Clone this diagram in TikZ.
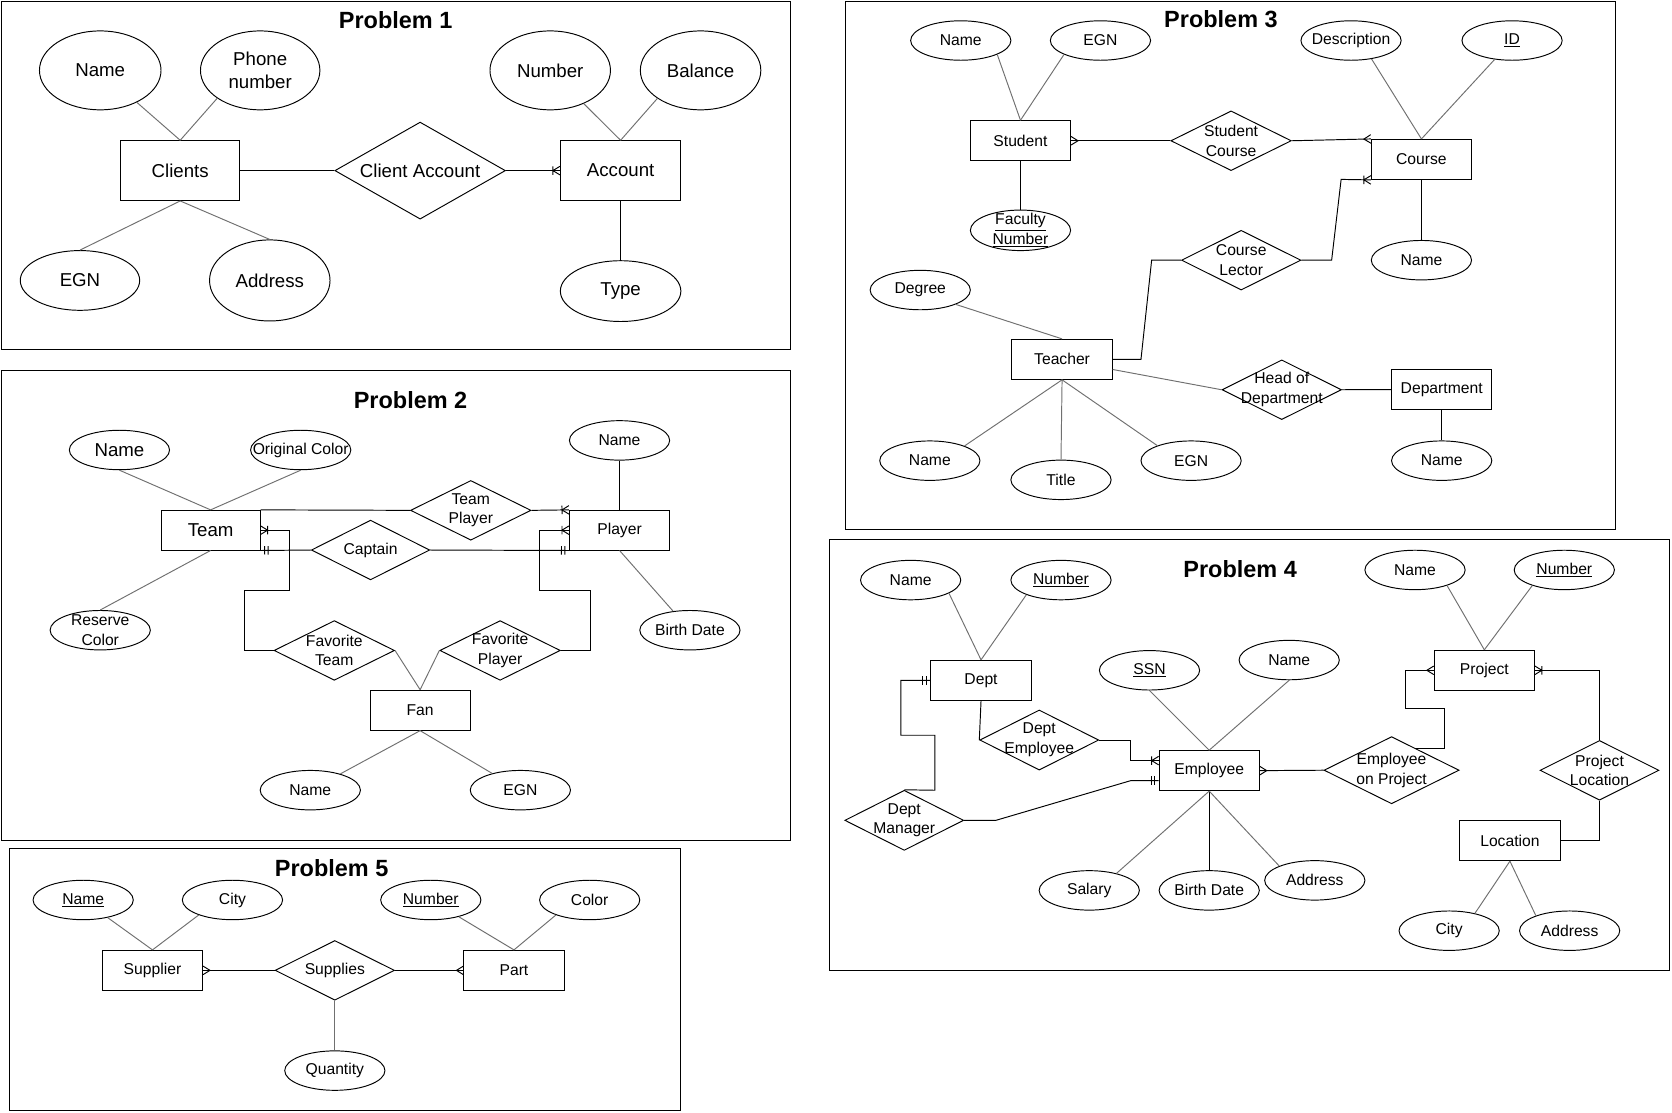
\documentclass[tikz,border=0pt]{standalone}
\usepackage{fontspec}
\setmainfont{Liberation Sans}
\usetikzlibrary{arrows.meta,shapes.geometric,calc}

\definecolor{ag}{HTML}{707070}

\pgfdeclarearrow{
  name = ERmany,
  defaults = {length = 6.5pt, width = 8pt},
  setup code = {
    \pgfarrowssettipend{0pt}
    \pgfarrowssetlineend{0pt}
    \pgfarrowssetbackend{-\pgfarrowlength}
    \pgfarrowssavethe\pgfarrowlength
    \pgfarrowssavethe\pgfarrowwidth
  },
  drawing code = {
    \pgfsetdash{}{0pt}
    \pgfpathmoveto{\pgfqpoint{0pt}{.5\pgfarrowwidth}}
    \pgfpathlineto{\pgfqpoint{-\pgfarrowlength}{0pt}}
    \pgfpathlineto{\pgfqpoint{0pt}{-.5\pgfarrowwidth}}
    \pgfusepathqstroke
  },
  parameters = {\the\pgfarrowlength,\the\pgfarrowwidth},
}
\pgfdeclarearrow{
  name = ERonemany,
  defaults = {length = 6.5pt, width = 8pt},
  setup code = {
    \pgfarrowssettipend{0pt}
    \pgfarrowssetlineend{0pt}
    \pgfarrowssetbackend{-\pgfarrowlength}
    \pgfarrowssavethe\pgfarrowlength
    \pgfarrowssavethe\pgfarrowwidth
  },
  drawing code = {
    \pgfsetdash{}{0pt}
    \pgfpathmoveto{\pgfqpoint{0pt}{.5\pgfarrowwidth}}
    \pgfpathlineto{\pgfqpoint{-\pgfarrowlength}{0pt}}
    \pgfpathlineto{\pgfqpoint{0pt}{-.5\pgfarrowwidth}}
    \pgfpathmoveto{\pgfqpoint{-\pgfarrowlength}{.5\pgfarrowwidth}}
    \pgfpathlineto{\pgfqpoint{-\pgfarrowlength}{-.5\pgfarrowwidth}}
    \pgfusepathqstroke
  },
  parameters = {\the\pgfarrowlength,\the\pgfarrowwidth},
}
\pgfdeclarearrow{
  name = ERone,
  defaults = {length = 7pt, width = 8pt},
  setup code = {
    \pgfarrowssettipend{0pt}
    \pgfarrowssetlineend{0pt}
    \pgfarrowssetbackend{-\pgfarrowlength}
    \pgfarrowssavethe\pgfarrowlength
    \pgfarrowssavethe\pgfarrowwidth
  },
  drawing code = {
    \pgfsetdash{}{0pt}
    \pgfpathmoveto{\pgfqpoint{-.54\pgfarrowlength}{.5\pgfarrowwidth}}
    \pgfpathlineto{\pgfqpoint{-.54\pgfarrowlength}{-.5\pgfarrowwidth}}
    \pgfpathmoveto{\pgfqpoint{-\pgfarrowlength}{.5\pgfarrowwidth}}
    \pgfpathlineto{\pgfqpoint{-\pgfarrowlength}{-.5\pgfarrowwidth}}
    \pgfusepathqstroke
  },
  parameters = {\the\pgfarrowlength,\the\pgfarrowwidth},
}

\tikzset{
  fsm/.style={font=\fontsize{14.7}{18.5}\selectfont},
  fbig/.style={font=\fontsize{17.5}{21.5}\selectfont},
  ptitle/.style={inner sep=0pt, font=\fontsize{22}{26}\selectfont\bfseries},
  ent/.style={draw, rectangle, line width=0.9pt, inner sep=0pt, minimum width=94pt, minimum height=37.5pt, fsm},
  att/.style={draw, ellipse, line width=0.9pt, inner sep=0pt, minimum width=94pt, minimum height=37pt},
  rel/.style={draw, diamond, line width=0.9pt, inner sep=0pt, minimum width=112pt, minimum height=56pt},
  lbl/.style={align=center, inner sep=0pt, fsm},
  lblbig/.style={align=center, inner sep=0pt, fbig},
  pframe/.style={draw, line width=0.9pt},
  bl/.style={line width=0.9pt, draw=black},
  al/.style={line width=0.9pt, draw=ag},
}

% shape with a free-standing centred text: style, name, position, text style, text
\newcommand\mkshape[5]{\node[#1] (#2) at (#3) {}; \node[#4] (#2t) at (#2.center) {#5};}

\begin{document}
\begin{tikzpicture}[x=1pt,y=-1pt]
\useasboundingbox (0,0) rectangle (1568,1043);

% frames
\draw[pframe] (1,1) rectangle (741,328);
\draw[pframe] (1,347) rectangle (741,788);
\draw[pframe] (9,796) rectangle (638,1041);
\draw[pframe] (793,1) rectangle (1515,497);
\draw[pframe] (778,506) rectangle (1566,910);

% ---------------- Problem 1 ----------------
\node[ptitle] (t1) at (371,19) {Problem 1};
\mkshape{att,minimum width=114pt,minimum height=74pt}{p1name}{94,66}{lblbig}{Name}
\mkshape{att,minimum width=112pt,minimum height=74pt}{p1phone}{244,66}{lblbig}{Phone\\number}
\mkshape{att,minimum width=113pt,minimum height=74pt}{p1num}{516,66}{lblbig}{Number}
\mkshape{att,minimum width=113pt,minimum height=74pt}{p1bal}{657,66}{lblbig}{Balance}
\node[ent,fbig,minimum width=112pt,minimum height=56pt] (p1cl) at (169,160) {Clients};
\mkshape{rel,minimum width=160pt,minimum height=91pt}{p1ca}{394,160}{lblbig}{Client Account}
\node[ent,fbig,minimum width=113pt,minimum height=56pt] (p1ac) at (582,160) {Account};
\mkshape{att,minimum width=112pt,minimum height=56pt}{p1egn}{75,263}{lblbig}{EGN}
\mkshape{att,minimum width=113pt,minimum height=76pt}{p1addr}{253,263}{lblbig}{Address}
\mkshape{att,minimum width=113pt,minimum height=57pt}{p1type}{582,273}{lblbig}{Type}

\draw[al] (p1name) -- (p1cl.north);
\draw[al] (p1phone.213) -- (p1cl.north);
\draw[al] (p1cl.south) -- (p1egn.north);
\draw[al] (p1cl.south) -- (p1addr.north);
\draw[al] (p1num) -- (p1ac.north);
\draw[al] (p1bal.213) -- (p1ac.north);
\draw[bl] (p1ac.south) -- (p1type.north);
\draw[bl] (p1cl.east) -- (p1ca.west);
\draw[bl,-{ERonemany}] (p1ca.east) -- (p1ac.west);

% ---------------- Problem 2 ----------------
\node[ptitle] (t2) at (385,375) {Problem 2};
\mkshape{att}{p2tn}{112,422}{lblbig}{Name}
\mkshape{att}{p2oc}{282,422}{lbl}{Original Color}
\mkshape{att}{p2pn}{581,413}{lbl}{Name}
\node[ent,fbig,minimum width=93pt,minimum height=37.2pt] (p2team) at (197.5,497.2) {Team};
\node[ent,minimum height=37.2pt] (p2pl) at (581,497.2) {Player};
\mkshape{rel,minimum width=113pt}{p2tp}{441.5,478.6}{lbl}{Team\\Player}
\mkshape{rel,minimum width=111pt}{p2cap}{347.5,515.8}{lbl}{Captain}
\mkshape{rel,minimum width=113pt}{p2ft}{313.5,610}{lbl}{Favorite\\Team}
\mkshape{rel,minimum width=113pt}{p2fp}{469,610}{lbl}{Favorite\\Player}
\node[ent] (p2fan) at (394,666) {Fan};
\mkshape{att}{p2rc}{94,591}{lbl}{Reserve\\Color}
\mkshape{att}{p2bd}{647,591}{lbl}{Birth Date}
\mkshape{att}{p2fn}{291,741}{lbl}{Name}
\mkshape{att}{p2egn}{488,741}{lbl}{EGN}

\draw[al] (p2tn.south) -- (p2team.north);
\draw[al] (p2oc.south) -- (p2team.north);
\draw[al] (p2team.south) -- (p2rc.north);
\draw[bl] (p2pn.south) -- (p2pl.north);
\draw[al] (p2pl.south) -- (p2bd);
\draw[al] (p2fan.south) -- (p2fn);
\draw[al] (p2fan.south) -- (p2egn);
\draw[bl] (p2team.north east) -- (p2tp.west);
\draw[bl,-{ERonemany}] (p2tp.east) -- (p2pl.north west);
\draw[bl,{ERone}-] (p2team.south east) -- (p2cap.west);
\draw[bl,-{ERone}] (p2cap.east) -- (p2pl.south west);
\draw[bl,-{ERonemany}] (p2ft.west) -| (229.7,553.6) -| (271.8,497.2) -- (p2team.east);
\draw[al] (p2ft.east) -- (p2fan.north);
\draw[al] (p2fp.west) -- (p2fan.north);
\draw[bl,-{ERonemany}] (p2fp.east) -| (553.6,553.6) -| (506.2,497.2) -- (p2pl.west);

% ---------------- Problem 3 ----------------
\node[ptitle] (t3) at (1145,18) {Problem 3};
\mkshape{att}{p3sname}{901,38}{lbl}{Name}
\mkshape{att}{p3segn}{1032,38}{lbl}{EGN}
\mkshape{att}{p3desc}{1267,38}{lbl}{Description}
\mkshape{att}{p3id}{1418,38}{lbl}{\underline{ID}}
\node[ent] (p3stud) at (957,132) {Student};
\mkshape{rel,minimum width=113pt}{p3sc}{1154.5,132}{lbl}{Student\\Course}
\node[ent] (p3course) at (1333,149.5) {Course};
\mkshape{att,minimum height=38pt}{p3fac}{957,216}{lbl}{\underline{Faculty}\\\underline{Number}}
\mkshape{rel}{p3cl}{1164,244}{lbl}{Course\\Lector}
\mkshape{att}{p3cname}{1333,244}{lbl}{Name}
\mkshape{att}{p3deg}{863,272}{lbl}{Degree}
\node[ent] (p3teach) at (996,337) {Teacher};
\mkshape{rel}{p3hod}{1202,365.5}{lbl}{Head of\\Department}
\node[ent] (p3dept) at (1352,365.3) {Department};
\mkshape{att}{p3tname}{872,432}{lbl}{Name}
\mkshape{att}{p3title}{995,450}{lbl}{Title}
\mkshape{att}{p3tegn}{1117,432}{lbl}{EGN}
\mkshape{att}{p3dname}{1352,432}{lbl}{Name}

\draw[al] (p3sname.-21) -- (p3stud.north);
\draw[al] (p3segn.201) -- (p3stud.north);
\draw[bl] (p3stud.south) -- (p3fac.north);
\draw[bl,{ERmany}-] (p3stud.east) -- (p3sc.west);
\draw[bl,-{ERmany}] (p3sc.east) -- (p3course.north west);
\draw[al] (p3desc.-42) -- (p3course.north);
\draw[al] (p3id) -- (p3course.north);
\draw[bl] (p3course.south) -- (p3cname.north);
\draw[bl] (p3teach.east) -- (1070,337) -- (1080,244) -- (p3cl.west);
\draw[bl,-{ERonemany}] (p3cl.east) -- (1248.8,244) -- (1257.7,168.25) -- (p3course.south west);
\draw[al] (p3deg.-22) -- (p3teach.north);
\draw[al] (p3teach.south) -- (p3tname.23);
\draw[al] (p3teach.south) -- (p3title.north);
\draw[al] (p3teach.south) -- (p3tegn.156);
\draw[al] ([yshift=-9.5pt]p3teach.east) -- (p3hod.west);
\draw[bl] (p3hod.east) -- (p3dept.west);
\draw[bl] (p3dept.south) -- (p3dname.north);

% ---------------- Problem 4 ----------------
\node[ptitle] (t4) at (1163,534) {Problem 4};
\mkshape{att}{p4dname}{854,544}{lbl}{Name}
\mkshape{att}{p4dnum}{995,544}{lbl}{\underline{Number}}
\node[ent] (p4dept) at (920,638) {Dept};
\mkshape{att}{p4ssn}{1078,628.6}{lbl}{\underline{SSN}}
\mkshape{att}{p4ename}{1209,619}{lbl}{Name}
\node[ent] (p4emp) at (1134,722.7) {Employee};
\mkshape{rel,minimum width=111.5pt,minimum height=56.4pt}{p4de}{974.6,694}{lbl}{Dept\\Employee}
\mkshape{rel,minimum width=111.5pt,minimum height=56.4pt}{p4dm}{848,769.3}{lbl}{Dept\\Manager}
\mkshape{att}{p4pname}{1327,534.5}{lbl}{Name}
\mkshape{att}{p4pnum}{1467,534.5}{lbl}{\underline{Number}}
\node[ent] (p4proj) at (1392,628.6) {Project};
\mkshape{rel,minimum width=126.7pt,minimum height=63pt}{p4eop}{1305,722.3}{lbl}{Employee\\on Project}
\mkshape{rel,minimum width=111.5pt}{p4pl}{1500,722.4}{lbl}{Project\\Location}
\node[ent] (p4loc) at (1416,788.4) {Location};
\mkshape{att}{p4sal}{1021.5,835}{lbl}{Salary}
\mkshape{att}{p4bd}{1134,835}{lbl}{Birth Date}
\mkshape{att}{p4addr}{1233,825.6}{lbl}{Address}
\mkshape{att}{p4city}{1359,872.8}{lbl}{City}
\mkshape{att}{p4laddr}{1472,872.8}{lbl}{Address}
\coordinate (eopx) at ($(p4eop.north)!0.35!(p4eop.east)$);

\draw[al] (p4dname.-19) -- (p4dept.north);
\draw[al] (p4dnum.203) -- (p4dept.north);
\draw[bl] (p4dept.south) -- (p4de.west);
\draw[bl,-{ERonemany}] (p4de.east) -| (1060.3,713.3) -- ([yshift=9.4pt]p4emp.west);
\draw[bl,-{ERone}] (p4dm.east) -- (934,769.3) -- (1060.3,732.1) -- ([yshift=-9.4pt]p4emp.west);
\draw[bl,-{ERone}] (p4dm.north) -- (876.8,741.1) |- (844.9,689.5) |- (p4dept.west);
\draw[al] (p4ssn.south) -- (p4emp.north);
\draw[al] (p4ename.south) -- (p4emp.north);
\draw[al] (p4emp.south) -- (p4sal.32);
\draw[bl] (p4emp.south) -- (p4bd.north);
\draw[al] (p4emp.south) -- (p4addr.158);
\draw[bl,{ERmany}-] (p4emp.east) -- (p4eop.west);
\draw[bl,-{ERmany}] (eopx) -| (1354.7,664.6) -| (1317.7,628.6) -- (p4proj.west);
\draw[bl,-{ERonemany}] (p4pl.north) |- (p4proj.east);
\draw[bl] (p4pl.south) |- (p4loc.east);
\draw[al] (p4pname.-26) -- (p4proj.north);
\draw[al] (p4pnum.206) -- (p4proj.north);
\draw[al] (p4loc.south) -- (p4city.34);
\draw[al] (p4loc.south) -- (p4laddr.156);

% ---------------- Problem 5 ----------------
\node[ptitle] (t5) at (311,814) {Problem 5};
\mkshape{att}{p5name}{78,844}{lbl}{\underline{Name}}
\mkshape{att}{p5city}{218,844}{lbl}{City}
\mkshape{att}{p5num}{404,844}{lbl}{\underline{Number}}
\mkshape{att}{p5col}{553,844}{lbl}{Color}
\node[ent] (p5sup) at (143,910) {Supplier};
\mkshape{rel}{p5sp}{314,910}{lbl}{Supplies}
\node[ent] (p5part) at (482,910) {Part};
\mkshape{att}{p5qty}{314,1004}{lbl}{Quantity}

\draw[al] (p5name) -- (p5sup.north);
\draw[al] (p5city.204) -- (p5sup.north);
\draw[al] (p5num) -- (p5part.north);
\draw[al] (p5col.204) -- (p5part.north);
\draw[bl,{ERmany}-] (p5sup.east) -- (p5sp.west);
\draw[bl,-{ERmany}] (p5sp.east) -- (p5part.west);
\draw[al] (p5sp.south) -- (p5qty.north);
\end{tikzpicture}
\end{document}
